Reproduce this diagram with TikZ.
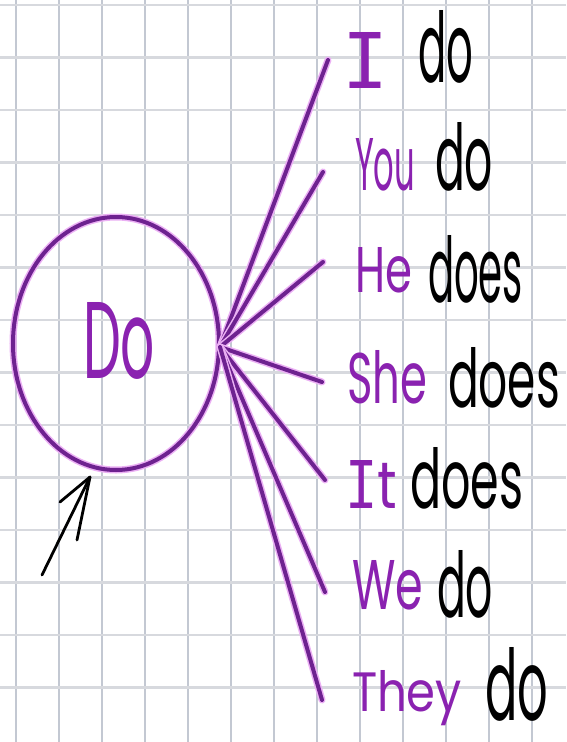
\documentclass[tikz,border=0pt]{standalone}
\usepackage{fontspec}
\setmainfont{Poppins}
\newfontfamily\monoI{DejaVu Sans Mono}
\usepackage{graphicx}
\usetikzlibrary{shapes.geometric}
\definecolor{gridv}{HTML}{C3C8D2}
\definecolor{gridh}{HTML}{D7D9DE}
\definecolor{inkpurple}{HTML}{6E2290}
\definecolor{glow}{HTML}{EBB0F4}
\definecolor{txtpurple}{HTML}{8A22B0}
\tikzset{
  glowline/.style={draw=inkpurple, line width=4pt, line cap=round,
    preaction={draw=glow, line width=7pt, line cap=round}},
  word/.style={anchor=base west, inner sep=0pt, outer sep=0pt},
  pron/.style={word, text=txtpurple},
  verb/.style={word, text=black},
  arrowink/.style={draw=black, line width=2.8pt, line cap=round, line join=round},
}
\newcommand{\fitword}[3]{\resizebox{#1pt}{#2pt}{#3}}
\begin{document}
\begin{tikzpicture}[x=1pt,y=-1pt]
\useasboundingbox (0,0) rectangle (566,742);
\fill[white] (0,0) rectangle (566,742);
% grid paper
\foreach \i in {0,...,12} \draw[gridv, line width=1.4pt] ({15.8+43*\i},0) -- ({15.8+43*\i},742);
\foreach \j in {0,...,13} \draw[gridh, line width=2.2pt] (0,{5+52.5*\j}) -- (566,{5+52.5*\j});
% central circle
\node[ellipse, glowline, minimum width=206pt, minimum height=253pt, inner sep=0pt] (do) at (116,343.5) {};
\node[pron] (dolabel) at (83,378) {\fitword{72}{76}{Do}};
% hub and line ends
\coordinate (hub) at (220,347);
\coordinate (eI) at (328,60);
\coordinate (eYou) at (323,172);
\coordinate (eHe) at (323,262);
\coordinate (eShe) at (322,382);
\coordinate (eIt) at (325,480);
\coordinate (eWe) at (325,592);
\coordinate (eThey) at (322,700);
\foreach \e in {eI,eYou,eHe,eShe,eIt,eWe,eThey} \draw[glowline] (hub) -- (\e);
% words
\node[pron] (pI) at (342,88) {\fitword{46}{56}{\monoI I}};
\node[verb] (vI) at (418,82) {\fitword{55}{72}{do}};
\node[pron] (pYou) at (355,190) {\fitword{60}{52}{You}};
\node[verb] (vYou) at (435,190) {\fitword{58}{68}{do}};
\node[pron] (pHe) at (355,292) {\fitword{57}{45}{He}};
\node[verb] (vHe) at (428,302) {\fitword{95}{67}{does}};
\node[pron] (pShe) at (347,403) {\fitword{80}{53}{She}};
\node[verb] (vShe) at (448,407) {\fitword{112}{60}{does}};
\node[pron] (pIt) at (345,508) {\fitword{52}{48}{{\monoI I}t}};
\node[verb] (vIt) at (410,508) {\fitword{113}{61}{does}};
\node[pron] (pWe) at (352,609) {\fitword{71}{49}{We}};
\node[verb] (vWe) at (437,617) {\fitword{56}{67}{do}};
\node[pron] (pThey) at (352,711) {\fitword{110}{41}{They}};
\node[verb] (vThey) at (485,720) {\fitword{63}{73}{do}};
% hand-drawn arrow
\coordinate (arrTail) at (42,575);
\coordinate (arrHead) at (90,477);
\coordinate (barbL) at (60,502);
\coordinate (barbR) at (77,540);
\draw[arrowink] (arrTail) -- (arrHead);
\draw[arrowink] (barbL) -- (arrHead) -- (barbR);
\end{tikzpicture}
\end{document}
